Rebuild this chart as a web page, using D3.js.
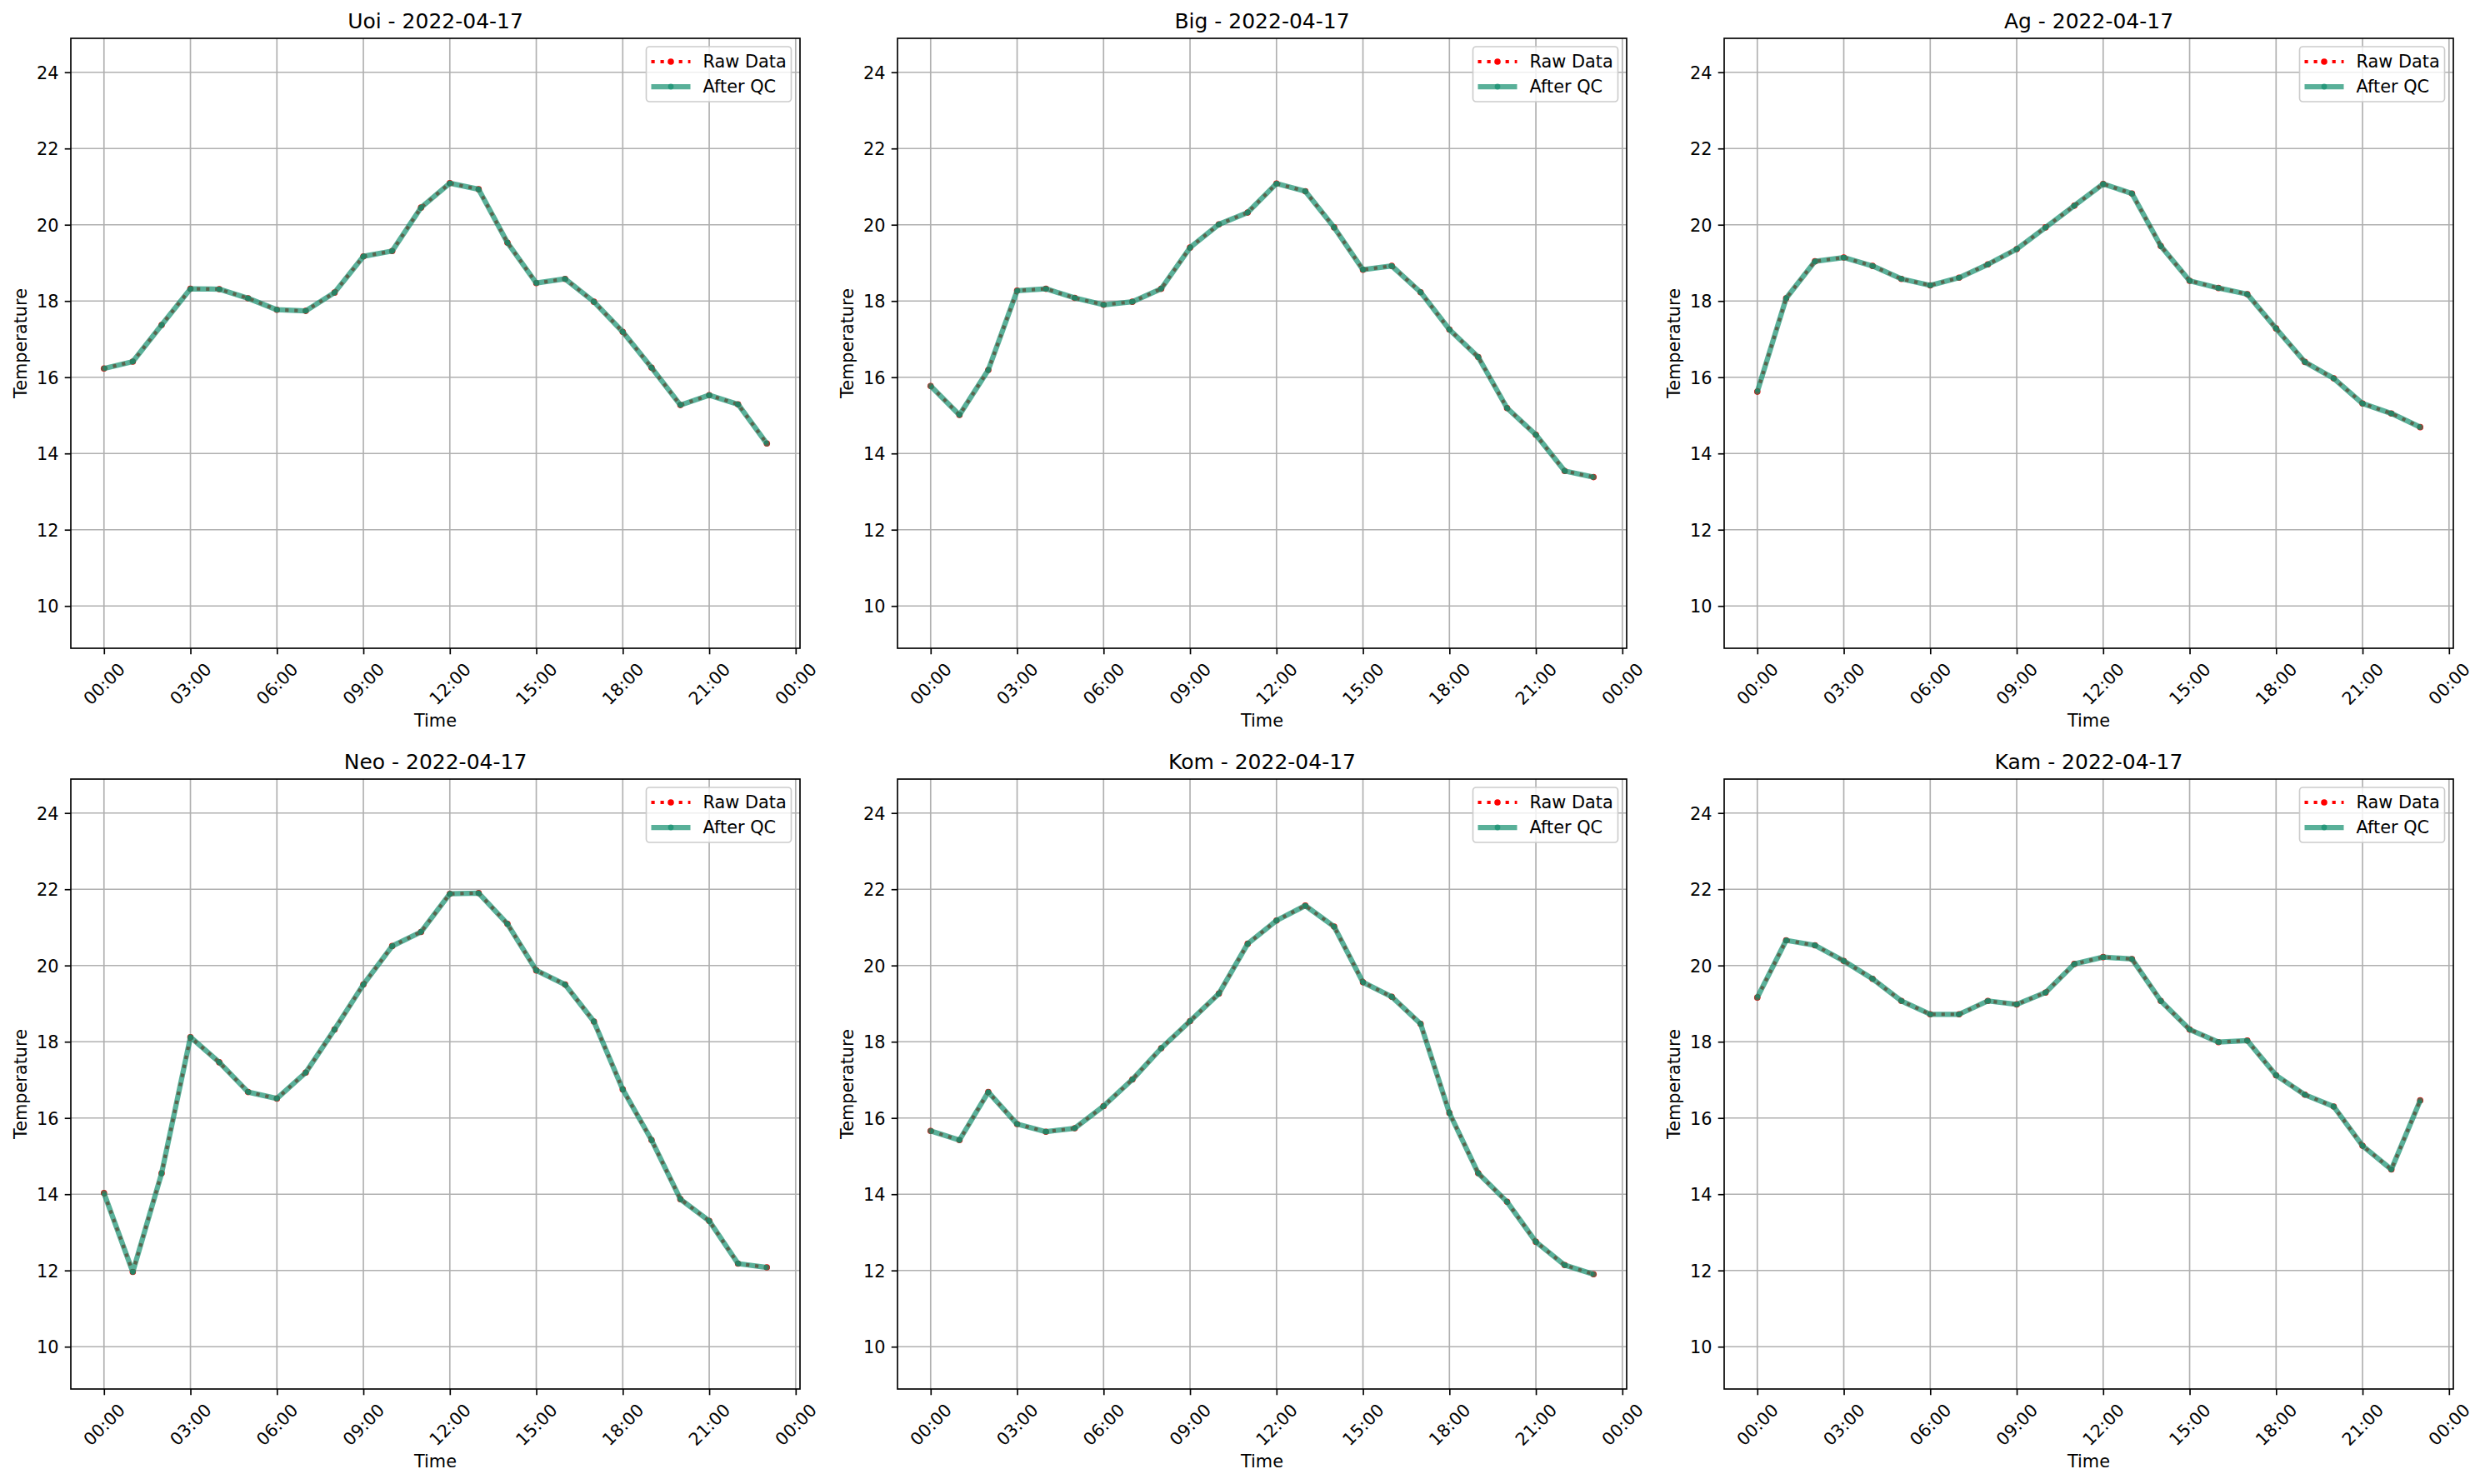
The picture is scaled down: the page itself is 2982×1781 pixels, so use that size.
<!DOCTYPE html>
<html>
<head>
<meta charset="utf-8">
<script src="https://cdn.jsdelivr.net/npm/d3@7"></script>
<style>
  html, body { margin: 0; padding: 0; background: #fff; }
  text { font-family: "DejaVu Sans", sans-serif; fill: #000; }
</style>
</head>
<body>
<script>
// ---------------- DATA ----------------
const hours = ["00:00","01:00","02:00","03:00","04:00","05:00","06:00","07:00",
               "08:00","09:00","10:00","11:00","12:00","13:00","14:00","15:00",
               "16:00","17:00","18:00","19:00","20:00","21:00","22:00","23:00"];
const dateStr = "2022-04-17";
const stations = ["Uoi", "Big", "Ag", "Neo", "Kom", "Kam"];

const uoi = [16.23,16.41,17.37,18.32,18.31,18.07,17.77,17.74,18.22,19.17,19.31,20.45,
             21.09,20.93,19.53,18.47,18.58,17.98,17.19,16.25,15.27,15.53,15.29,14.26];
const big = [15.77,15.01,16.19,18.27,18.32,18.08,17.90,17.98,18.32,19.40,20.01,20.32,
             21.08,20.88,19.93,18.82,18.92,18.23,17.25,16.53,15.19,14.49,13.54,13.38];
const ag  = [15.62,18.07,19.04,19.14,18.92,18.58,18.41,18.61,18.96,19.36,19.93,20.50,
             21.07,20.82,19.44,18.53,18.34,18.18,17.28,16.40,15.97,15.31,15.05,14.69];
const neo = [14.03,11.96,14.55,18.12,17.46,16.68,16.51,17.19,18.32,19.50,20.51,20.88,
             21.88,21.90,21.09,19.87,19.50,18.53,16.75,15.42,13.87,13.30,12.18,12.08];
const kom = [15.66,15.42,16.68,15.84,15.64,15.73,16.31,17.01,17.83,18.54,19.26,20.57,
             21.18,21.57,21.02,19.56,19.18,18.47,16.13,14.55,13.80,12.75,12.14,11.90];
const kam = [19.16,20.66,20.53,20.12,19.65,19.07,18.72,18.72,19.07,18.98,19.29,20.04,
             20.22,20.17,19.07,18.32,17.99,18.03,17.12,16.61,16.30,15.27,14.65,16.46];

// raw and after-QC series (identical in the reference)
const rawSeries = [uoi, big, ag, neo, kom, kam];
const qcSeries  = [uoi, big, ag, neo, kom, kam];

const yTicks = [10, 12, 14, 16, 18, 20, 22, 24];
const yLimits = [8.89, 24.89];
const xTickLabels = ["00:00","03:00","06:00","09:00","12:00","15:00","18:00","21:00","00:00"];
const legendLabels = ["Raw Data", "After QC"];

// ---------------- LAYOUT ----------------
const W = 2982, H = 1781;
const PT = 150 / 72;
const panelLefts = [85, 1077, 2069];
const panelTops = [46, 935];
const PW = 875, PH = 732;
const QC_COLOR = "#128e6e";
const RAW_COLOR = "#ff0000";
const GRID = "#b0b0b0";

const svg = d3.select("body").append("svg")
  .attr("width", W).attr("height", H)
  .attr("xmlns", "http://www.w3.org/2000/svg");
svg.append("rect").attr("width", W).attr("height", H).attr("fill", "#fff");

const parse = d3.timeParse("%Y-%m-%d %H:%M");
const times = hours.map(h => parse(dateStr + " " + h));
const t0 = times[0], tN = times[times.length - 1];
const span = tN - t0;
const xDomain = [new Date(+t0 - 0.05 * span), new Date(+tN + 0.05 * span)];

stations.forEach((name, i) => {
  const col = i % 3, row = Math.floor(i / 3);
  const left = panelLefts[col], top = panelTops[row];
  const g = svg.append("g").attr("transform", `translate(${left},${top})`);

  const x = d3.scaleTime().domain(xDomain).range([0, PW]);
  const y = d3.scaleLinear().domain(yLimits).range([PH, 0]);
  const xt = d3.timeHour.every(3).range(t0, new Date(+t0 + 24 * 3600e3 + 1));

  // grid
  g.append("g").selectAll("line").data(yTicks).join("line")
    .attr("x1", 0).attr("x2", PW)
    .attr("y1", d => y(d)).attr("y2", d => y(d))
    .attr("stroke", GRID).attr("stroke-width", 0.8 * PT);
  g.append("g").selectAll("line").data(xt).join("line")
    .attr("x1", d => x(d)).attr("x2", d => x(d))
    .attr("y1", 0).attr("y2", PH)
    .attr("stroke", GRID).attr("stroke-width", 0.8 * PT);

  // axes via d3
  const yAxis = d3.axisLeft(y).tickValues(yTicks).tickSize(3.5 * PT).tickPadding(3.5 * PT)
    .tickFormat(d3.format("d"));
  const ya = g.append("g").call(yAxis);
  ya.select(".domain").remove();
  ya.selectAll("line").attr("stroke", "#000").attr("stroke-width", 0.8 * PT);
  ya.selectAll("text").attr("font-size", 10 * PT).attr("font-family", "DejaVu Sans")
    .attr("fill", "#000").attr("dy", "0.35em");

  const xAxis = d3.axisBottom(x).tickValues(xt).tickSize(3.5 * PT).tickFormat((d, k) => xTickLabels[k]);
  const xa = g.append("g").attr("transform", `translate(0,${PH})`).call(xAxis);
  xa.select(".domain").remove();
  xa.selectAll("line").attr("stroke", "#000").attr("stroke-width", 0.8 * PT);
  xa.selectAll("text").attr("font-size", 10 * PT).attr("font-family", "DejaVu Sans")
    .attr("fill", "#000")
    .attr("text-anchor", "middle").attr("dy", null).attr("y", null)
    .attr("dominant-baseline", "central")
    .attr("transform", "translate(0,43) rotate(-45)");

  // spines
  g.append("rect").attr("x", 0).attr("y", 0).attr("width", PW).attr("height", PH)
    .attr("fill", "none").attr("stroke", "#000").attr("stroke-width", 0.8 * PT);

  // lines
  const rawData = rawSeries[i].map((v, k) => ({ t: times[k], v }));
  const qcData = qcSeries[i].map((v, k) => ({ t: times[k], v }));
  const line = d3.line().x(d => x(d.t)).y(d => y(d.v));

  g.append("path").datum(rawData).attr("d", line)
    .attr("fill", "none").attr("stroke", RAW_COLOR).attr("stroke-width", 2 * PT)
    .attr("stroke-dasharray", `${2 * PT},${1.65 * 2 * PT}`).attr("stroke-linejoin", "round");
  g.append("g").selectAll("circle").data(rawData).join("circle")
    .attr("cx", d => x(d.t)).attr("cy", d => y(d.v)).attr("r", 3.8).attr("fill", RAW_COLOR);

  g.append("path").datum(qcData).attr("d", line)
    .attr("fill", "none").attr("stroke", QC_COLOR).attr("stroke-opacity", 0.7)
    .attr("stroke-width", 3 * PT).attr("stroke-linejoin", "round").attr("stroke-linecap", "butt");
  g.append("g").selectAll("circle").data(qcData).join("circle")
    .attr("cx", d => x(d.t)).attr("cy", d => y(d.v)).attr("r", 3.4)
    .attr("fill", QC_COLOR).attr("fill-opacity", 0.7);

  // title
  g.append("text").attr("x", PW / 2).attr("y", -12.5).attr("text-anchor", "middle")
    .attr("font-size", 12 * PT).text(`${name} - ${dateStr}`);

  // axis labels
  g.append("text").attr("x", PW / 2).attr("y", 826).attr("text-anchor", "middle")
    .attr("font-size", 10 * PT).text("Time");
  g.append("text").attr("transform", `translate(${-60},${PH / 2}) rotate(-90)`)
    .attr("text-anchor", "middle").attr("dominant-baseline", "central")
    .attr("font-size", 10 * PT).text("Temperature");

  // legend
  const lw = 174, lh = 66;
  const lg = g.append("g").attr("transform", `translate(${PW - 10.5 - lw},${10})`);
  lg.append("rect").attr("width", lw).attr("height", lh).attr("rx", 4).attr("ry", 4)
    .attr("fill", "#fff").attr("fill-opacity", 0.8)
    .attr("stroke", "#cccccc").attr("stroke-width", 1.67);
  const rows = [18, 48];
  lg.append("line").attr("x1", 6).attr("x2", 53).attr("y1", rows[0]).attr("y2", rows[0])
    .attr("stroke", RAW_COLOR).attr("stroke-width", 2 * PT)
    .attr("stroke-dasharray", `${2 * PT},${1.65 * 2 * PT}`);
  lg.append("circle").attr("cx", 29.5).attr("cy", rows[0]).attr("r", 3.8).attr("fill", RAW_COLOR);
  lg.append("line").attr("x1", 6).attr("x2", 53).attr("y1", rows[1]).attr("y2", rows[1])
    .attr("stroke", QC_COLOR).attr("stroke-opacity", 0.7).attr("stroke-width", 3 * PT);
  lg.append("circle").attr("cx", 29.5).attr("cy", rows[1]).attr("r", 3.4)
    .attr("fill", QC_COLOR).attr("fill-opacity", 0.7);
  lg.selectAll("text.lab").data(legendLabels).join("text")
    .attr("class", "lab")
    .attr("x", 68).attr("y", (d, k) => rows[k]).attr("dominant-baseline", "central")
    .attr("font-size", 10 * PT).text(d => d);
});
</script>
</body>
</html>
